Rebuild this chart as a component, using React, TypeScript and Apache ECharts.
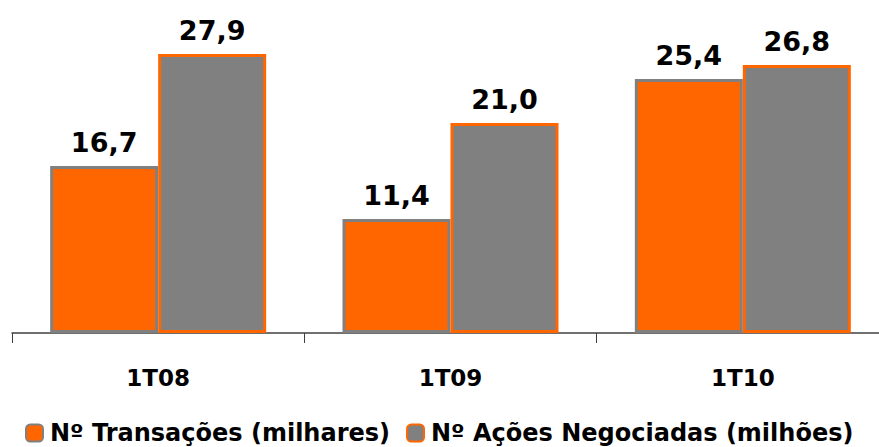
import React, { useEffect, useRef } from "react";
import * as echarts from "echarts";

const categories = ["1T08", "1T09", "1T10"];
const transacoes = [16.7, 11.4, 25.4];
const acoes = [27.9, 21.0, 26.8];
const seriesNames = ["Nº Transações (milhares)", "Nº Ações Negociadas (milhões)"];

const ORANGE = "#FF6600";
const GRAY = "#808080";
const FONT = "DejaVu Sans";

export default function App() {
  const ref = useRef<HTMLDivElement>(null);
  useEffect(() => {
    if (!ref.current) return;
    const chart = echarts.init(ref.current, undefined, { renderer: "svg" });
    const fmt = (p: any) => Number(p.value).toFixed(1).replace(".", ",");
    const label = {
      show: true,
      position: "top",
      distance: 10,
      formatter: fmt,
      color: "#000",
      fontFamily: FONT,
      fontWeight: "bold",
      fontSize: 27,
    };
    chart.setOption({
      animation: false,
      backgroundColor: "#fff",
      grid: {
        left: 12,
        width: 877,
        top: 33,
        bottom: 114,
        containLabel: false,
        outerBoundsMode: "none",
      },
      legend: {
        left: 25,
        top: 421,
        padding: 0,
        itemWidth: 17,
        itemHeight: 17,
        itemGap: 16,
        textStyle: { fontFamily: FONT, fontWeight: "bold", fontSize: 24, lineHeight: 24, color: "#000", padding: [0, 0, 0, 2] },
        data: seriesNames,
      },
      xAxis: {
        type: "category",
        data: categories,
        axisLine: { lineStyle: { color: "#404040", width: 1.5 } },
        axisTick: { show: true, length: 10, lineStyle: { color: "#404040" } },
        axisLabel: { margin: 33, color: "#000", fontFamily: FONT, fontWeight: "bold", fontSize: 23 },
      },
      yAxis: {
        type: "value",
        min: 0,
        max: 30,
        show: false,
        splitLine: { show: false },
      },
      series: [
        {
          name: seriesNames[0],
          type: "bar",
          data: transacoes,
          barWidth: 108,
          barGap: "0%",
          itemStyle: { color: ORANGE, borderColor: GRAY, borderWidth: 3 },
          label,
        },
        {
          name: seriesNames[1],
          type: "bar",
          data: acoes,
          barWidth: 108,
          itemStyle: { color: GRAY, borderColor: ORANGE, borderWidth: 3 },
          label,
        },
      ],
    });
    return () => chart.dispose();
  }, []);
  return (
    <div
      ref={ref}
      style={{ position: "fixed", left: 0, top: 0, width: 879, height: 447 }}
    />
  );
}
